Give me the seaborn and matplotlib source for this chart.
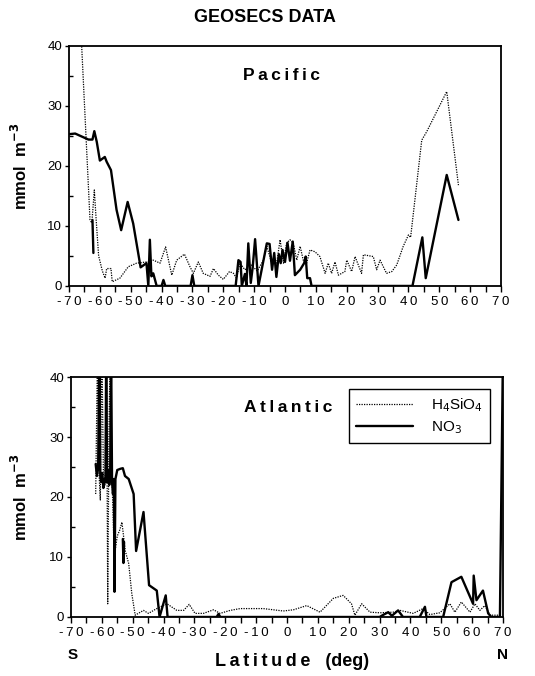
import pandas as pd
import seaborn as sns
import matplotlib.pyplot as plt
from matplotlib.lines import Line2D
from matplotlib.ticker import MultipleLocator, FuncFormatter

# Pacific, NO3 (solid line)
pac_no3_lat = [
    -70, -68, -63.7, -62.4, -61.8, -61, -60, -58.4, -57.8, -56.4,
    -54.6, -53.1, -51, -49.2, -46.8, -44.9, -44.3, -43.8, -43.3, -42.7,
    -41.6, -40, -39.4, -38.8, -30.6, -30, -29.4, -16, -15.1, -14.4,
    -14, -13, -12.5, -11.9, -11.1, -10.5, -9.7, -8.6, -5.9, -5.0,
    -4.2, -3.5, -2.8, -2.0, -1.4, -0.8, 0, 0.8, 1.6, 2.5,
    3.2, 4.9, 6.2, 6.7, 7.2, 8.1, 8.6, 41.3, 44.5, 45.6,
    52.4, 56.2]
pac_no3_val = [
    25.3, 25.4, 24.4, 24.4, 25.8, 24.0, 20.9, 21.5, 20.7, 19.3,
    12.7, 9.3, 14.0, 10.4, 3.1, 3.8, 0, 7.7, 1.6, 2.1,
    0, 0, 1.0, 0, 0, 1.8, 0, 0, 4.3, 4.0,
    0, 2.0, 0, 7.1, 0.5, 3.0, 7.8, 0, 7.1, 7.0,
    2.7, 5.5, 1.5, 5.3, 3.8, 6.0, 4.0, 7.2, 4.2, 7.4,
    1.8, 2.7, 3.8, 4.9, 1.3, 1.3, 0, 0, 8.1, 1.3,
    18.5, 11.0]
# short separate NO3 station near 62S
pac_no3_spike_lat = [-62.4, -62.1]
pac_no3_spike_val = [11.0, 5.5]

# Pacific, H4SiO4 (dotted line)
pac_si_lat = [
    -67, -65.9, -64.5, -63.2, -62.6, -61.8, -61.2, -60.4, -59.2, -58.3,
    -57.8, -56.4, -56.0, -53.5, -50.8, -48.1, -44.8, -42.7, -40.5, -38.7,
    -36.7, -35.1, -32.6, -30.8, -29.7, -28.1, -26.5, -24.3, -23.2, -21.6,
    -20, -18, -16.7, -15.7, -14.6, -13, -11, -9, -7, -5.9,
    -4.3, -2.7, -1.6, -0.5, 0.5, 1.6, 2.7, 3.8, 4.9, 5.9,
    7, 8.1, 9.7, 11.3, 13, 14, 15.1, 16.2, 17.3, 19.4,
    20, 21.6, 22.7, 24.8, 25.4, 28.6, 29.7, 30.8, 32.9, 34.6,
    36.2, 38.3, 40, 40.7, 44.3, 45.9, 52.4, 56.2]
pac_si_val = [
    50, 40, 25, 11, 10.5, 16, 11, 5, 2.5, 1.3,
    2.9, 2.9, 0.7, 1.3, 3.2, 3.8, 4.0, 4.3, 3.8, 6.5,
    1.8, 4.3, 5.3, 3.2, 2.1, 4.0, 2.1, 1.6, 2.9, 1.8,
    1.1, 2.4, 2.1, 1.3, 3.8, 2.7, 3.5, 2.5, 4.3, 6.6,
    3.8, 3.8, 7.7, 3.8, 7.1, 7.7, 7.1, 4.3, 6.6, 4.3,
    3.8, 6.0, 5.7, 4.9, 2.1, 3.8, 2.1, 4.0, 1.8, 2.4,
    4.3, 2.4, 4.9, 2.1, 5.2, 4.9, 2.7, 4.3, 2.1, 2.4,
    3.5, 6.6, 8.5, 8.1, 24.3, 25.7, 32.4, 16.8]

# Atlantic, NO3 (solid line)
atl_no3_lat = [
    -62, -61.6, -61.2, -60.8, -60.5, -60.2, -59.9, -59.5, -59.1, -58.8,
    -58.6, -58.3, -58, -57.6, -57.3, -57.0, -56.7, -56.4, -56.1, -55.9,
    -55.6, -55, -54, -53.2, -52.5, -51.3, -49.7, -48.9, -46.5, -44.7,
    -42.2, -41.3, -39.3, -38.7, -22.8, -22.2, -21.6, 30, 31, 32.8,
    34, 36, 37.6, 43, 44.7, 45.2, 50.6, 53.3, 56.5, 60.3,
    60.5, 61.4, 63.5, 65.2, 66.2, 69, 70]
atl_no3_val = [
    25.5, 23.5, 24.8, 45, 23.5, 22.5, 24, 21.5, 23, 22.5,
    45, 22.5, 24.5, 22, 24, 45, 22.5, 20.5, 23, 4.2,
    23, 24.5, 24.7, 24.8, 23.5, 23, 20.5, 11, 17.5, 5.3,
    4.4, 0, 3.6, 0, 0, 0.5, 0, 0, 0.3, 0.8,
    0.2, 1.1, 0, 0, 1.7, 0, 0, 5.8, 6.7, 2.2,
    6.9, 2.8, 4.4, 0.6, 0, 0, 45]
atl_no3_spike_lat = [-53.2, -53.0, -52.8]
atl_no3_spike_val = [13.0, 9.0, 12.5]

# Atlantic, H4SiO4 (dotted line)
atl_si_lat = [
    -62, -61.4, -61, -60.5, -60, -59.5, -59, -58.5, -58.1, -57.7,
    -57.3, -56.8, -56.2, -55.7, -55, -54.2, -53.5, -52.4, -51.3, -50.3,
    -49.2, -46.5, -44.9, -42.2, -38.9, -35.7, -33.5, -31.7, -29.8, -27.1,
    -23.8, -21.7, -18.4, -15.2, -7.7, -1.2, 2.1, 6.4, 10.7, 15,
    18.2, 20.9, 22, 24.2, 26.9, 30.1, 34.4, 36.6, 40.9, 44.1,
    46.3, 49.5, 52.8, 54.4, 56.5, 59.3, 60.9, 62.5, 64.1, 65.8,
    69]
atl_si_val = [
    20.5, 45, 25, 19.5, 45, 24, 22, 45, 2.2, 30,
    45, 25, 14, 11, 13.5, 14.5, 15.8, 11, 8.9, 3.9,
    0.3, 1.1, 0.6, 1.4, 2.2, 1.1, 1.1, 2.1, 0.6, 0.6,
    1.2, 0.6, 1.1, 1.4, 1.4, 1.0, 1.2, 1.9, 0.8, 3.1,
    3.6, 2.2, 0.3, 2.2, 0.8, 0.7, 0.8, 1.1, 0.6, 1.4,
    0.4, 0.7, 2.2, 0.8, 2.5, 0.8, 2.2, 1.1, 1.9, 0.3,
    0.3]

lat_ticks = list(range(-70, 71, 10))
val_ticks = [0, 10, 20, 30, 40]


def trace(*pieces):
    parts = []
    for k, (lat, val) in enumerate(pieces):
        parts.append(pd.DataFrame({'lat': lat, 'val': val, 'seg': k}))
    return pd.concat(parts, ignore_index=True)


def spaced(word):
    # the original labels are set with wide letter spacing
    return '\u2009'.join(word)


sns.set_style('ticks')
plt.rcParams['font.family'] = ['Liberation Sans', 'DejaVu Sans']
for key in ['text.color', 'axes.labelcolor', 'xtick.color', 'ytick.color',
            'axes.edgecolor']:
    plt.rcParams[key] = 'black'

fig = plt.figure(figsize=(5.35, 6.76), dpi=100)
ax_top = fig.add_axes([0.129, 0.577, 0.8075, 0.355])
ax_bot = fig.add_axes([0.1327, 0.0873, 0.8075, 0.355])

panels = [
    (ax_top, trace((pac_si_lat, pac_si_val)),
     trace((pac_no3_lat, pac_no3_val), (pac_no3_spike_lat, pac_no3_spike_val)),
     'Pacific', -1),
    (ax_bot, trace((atl_si_lat, atl_si_val)),
     trace((atl_no3_lat, atl_no3_val), (atl_no3_spike_lat, atl_no3_spike_val)),
     'Atlantic', 0.5),
]

for ax, si, no3, name, name_x in panels:
    sns.lineplot(data=si, x='lat', y='val', units='seg', estimator=None, sort=False,
                 ax=ax, color='black', linewidth=0.9, dashes=False, linestyle=(0, (1, 1)))
    sns.lineplot(data=no3, x='lat', y='val', units='seg', estimator=None, sort=False,
                 ax=ax, color='black', linewidth=1.7)
    ax.set_xlim(-70, 70)
    ax.set_ylim(0, 40)
    ax.set_xticks(lat_ticks)
    ax.set_yticks(val_ticks)
    ax.xaxis.set_minor_locator(MultipleLocator(5))
    ax.yaxis.set_minor_locator(MultipleLocator(5))
    ax.xaxis.set_major_formatter(FuncFormatter(lambda v, p: spaced(f"{v:.0f}")))
    ax.tick_params(axis='x', which='both', direction='out', length=4, width=1,
                   labelsize=9.5, pad=3)
    ax.tick_params(axis='y', which='major', direction='out', length=3, width=1,
                   labelsize=9.5, pad=2)
    ax.tick_params(axis='y', which='minor', direction='in', length=3, width=1)
    for s in ax.spines.values():
        s.set_visible(True)
        s.set_linewidth(1.3)
        s.set_color('black')
    ax.set_xlabel('')
    ax.set_ylabel('')
    ax.text(name_x, 35, spaced(name), ha='center', va='center', fontsize=12.5,
            fontweight='bold')

handles = [Line2D([], [], color='black', linewidth=0.9, linestyle=(0, (1, 1))),
           Line2D([], [], color='black', linewidth=1.7)]
leg = ax_bot.legend(handles, ['H$_4$SiO$_4$', 'NO$_3$'], loc='upper right',
                    bbox_to_anchor=(0.97, 0.95), borderaxespad=0, fontsize=11,
                    handlelength=3.7, handletextpad=1.2, borderpad=0.45,
                    labelspacing=0.4, fancybox=False, framealpha=1)
leg.get_frame().set_edgecolor('black')
leg.get_frame().set_linewidth(1.0)

fig.text(265 / 535, 1 - 18 / 676, 'GEOSECS DATA', ha='center', va='center',
         fontsize=13, fontweight='bold')
fig.text(20 / 535, 1 - 166 / 676, 'mmol  m$^{\\mathbf{-3}}$', ha='center', va='center',
         rotation=90, fontsize=12, fontweight='bold')
fig.text(20 / 535, 1 - 497 / 676, 'mmol  m$^{\\mathbf{-3}}$', ha='center', va='center',
         rotation=90, fontsize=12, fontweight='bold')
fig.text(292 / 535, 1 - 662 / 676, spaced('Latitude') + '   (deg)', ha='center',
         va='center', fontsize=13, fontweight='bold')
fig.text(73 / 535, 1 - 655 / 676, 'S', ha='center', va='center',
         fontsize=11, fontweight='bold')
fig.text(502 / 535, 1 - 655 / 676, 'N', ha='center', va='center',
         fontsize=11, fontweight='bold')

fig.savefig('out.png', dpi=100)
